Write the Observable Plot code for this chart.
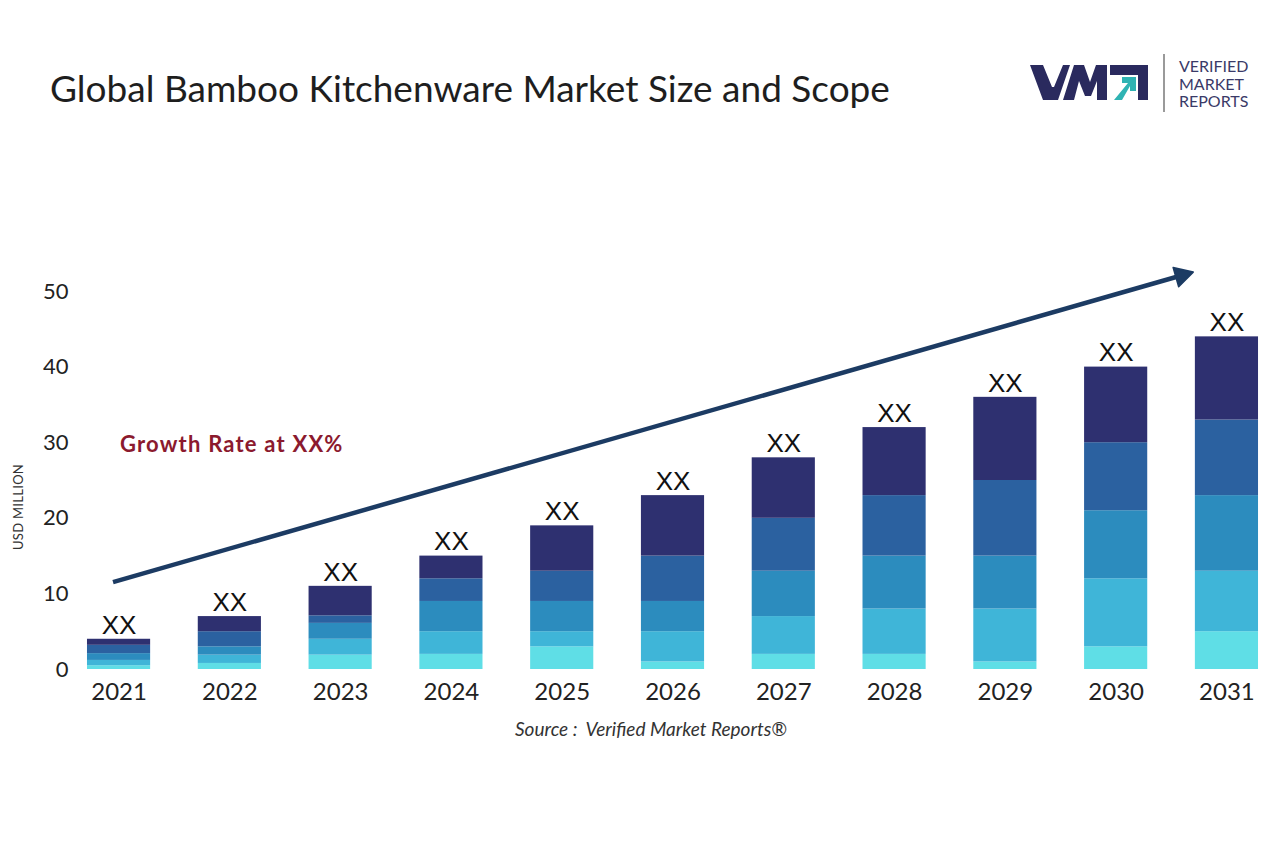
<!DOCTYPE html>
<html><head><meta charset="utf-8">
<script src="https://cdn.jsdelivr.net/npm/d3@7"></script>
<script src="https://cdn.jsdelivr.net/npm/@observablehq/plot@0.6"></script>
<style>
body{margin:0;background:#fff;width:1280px;height:853px;overflow:hidden;font-family:Lato,"Open Sans",sans-serif;}
#wrap{position:relative;width:1280px;height:853px;}
#title{position:absolute;left:50px;top:66px;line-height:44px;font-size:37px;color:#1e1e1e;font-family:Lato,sans-serif;white-space:nowrap;}
#chart{position:absolute;left:0;top:240px;}
#ylabel{position:absolute;left:18px;top:507px;transform:translate(-50%,-50%) rotate(-90deg);font-size:13px;letter-spacing:0.3px;color:#333;white-space:nowrap;}
#growth{position:absolute;left:120px;top:443px;transform:translateY(-50%);font-size:22px;letter-spacing:1.2px;font-weight:700;color:#8b1a2e;white-space:nowrap;}
#source{position:absolute;left:515px;top:728px;transform:translateY(-50%);font-size:19px;font-style:italic;color:#333;white-space:nowrap;}
#sep{position:absolute;left:1163px;top:54px;width:1.5px;height:58px;background:#9a9a9a;}
#vmrtext{position:absolute;left:1179px;top:57px;font-size:16px;line-height:17.5px;color:#3a3a68;}
#logo{position:absolute;left:1030px;top:65px;}
</style></head>
<body><div id="wrap">
<div id="title">Global Bamboo Kitchenware Market Size and Scope</div>
<svg id="logo" width="120" height="36" viewBox="0 0 120 36">
  <polygon points="0,0 13,0 22,22 24,22 33,0 40,0 28,35 13,35" fill="#2a2a5e"/>
  <polygon points="33,35 44,0 54,0 60,17 66,0 77,0 77,35 67,35 67,16 61,31 55,31 49,16 44,35" fill="#2a2a5e"/>
  <path d="M80,0 H118 V35 H108 V10 H80 Z" fill="#2a2a5e"/>
  <polygon points="84,35 98,18 92,18 92,12 106,12 106,26 100,26 100,21 92,35" fill="#2fb3b3"/>
</svg>
<div id="sep"></div>
<div id="vmrtext">VERIFIED<br>MARKET<br>REPORTS</div>
<div id="chart"></div>
<div id="ylabel">USD MILLION</div>
<div id="growth">Growth Rate at XX%</div>
<div id="source">Source :&nbsp; Verified Market Reports®</div>
</div>
<script>
// ---- data ----
const years = ["2021","2022","2023","2024","2025","2026","2027","2028","2029","2030","2031"];
const seriesNames = ["Segment 1","Segment 2","Segment 3","Segment 4","Segment 5"]; // bottom to top
const segment1 = [0.5, 0.8, 1.9, 2, 3, 1, 2, 2, 1, 3, 5];
const segment2 = [0.7, 1.1, 2.1, 3, 2, 4, 5, 6, 7, 9, 8];
const segment3 = [0.9, 1.1, 2.1, 4, 4, 4, 6, 7, 7, 9, 10];
const segment4 = [1.1, 2.0, 1.0, 3, 4, 6, 7, 8, 10, 9, 10];
const segment5 = [0.8, 2.0, 3.9, 3, 6, 8, 8, 9, 11, 10, 11];
const barLabels = ["XX","XX","XX","XX","XX","XX","XX","XX","XX","XX","XX"];
const yTicks = [0, 10, 20, 30, 40, 50];
const trendFrom = {year: 2020.95, value: 11.5};
const trendTo = {year: 2030.7, value: 52.5};

const palette = ["#5fdee6", "#3fb5d8", "#2c8cbe", "#2b61a0", "#2e3070"];
const arrowColor = "#1c3b63";

// ---- build tables ----
const seriesValues = [segment1, segment2, segment3, segment4, segment5];
const rows = [];
seriesNames.forEach((s, si) => years.forEach((y, i) => rows.push({year: y, series: s, value: seriesValues[si][i]})));
const totals = years.map((y, i) => ({year: y, total: d3.sum(seriesValues, a => a[i]), label: barLabels[i]}));

function trendArrow(index, scales) {
  const x = scales.x, y = scales.y;
  const bw = typeof x.bandwidth === "function" ? x.bandwidth() : x.bandwidth;
  const st = typeof x.step === "function" ? x.step() : x.step;
  const first = +years[0];
  const px = (yr) => x(years[0]) + bw / 2 + (yr - first) * st;
  const x1 = px(trendFrom.year), y1 = y(trendFrom.value);
  const x2 = px(trendTo.year), y2 = y(trendTo.value);
  const ang = Math.atan2(y2 - y1, x2 - x1);
  const L = 18, W = 10;
  const bx = x2 - L * Math.cos(ang), by = y2 - L * Math.sin(ang);
  const nx = -Math.sin(ang), ny = Math.cos(ang);
  const g = d3.create("svg:g");
  g.append("line").attr("x1", x1).attr("y1", y1).attr("x2", bx + 2 * Math.cos(ang)).attr("y2", by + 2 * Math.sin(ang))
    .attr("stroke", arrowColor).attr("stroke-width", 4.5);
  g.append("polygon").attr("points", `${x2},${y2} ${bx + W * nx},${by + W * ny} ${bx - W * nx},${by - W * ny}`)
    .attr("fill", arrowColor).attr("stroke", arrowColor).attr("stroke-width", 1.5).attr("stroke-linejoin", "round");
  return g.node();
}

const chart = Plot.plot({
  width: 1280,
  height: 469,
  marginLeft: 80,
  marginRight: 15,
  marginTop: 51,
  marginBottom: 40,
  style: {fontSize: "22px", fontFamily: "Lato, sans-serif", color: "#222", background: "transparent", overflow: "visible"},
  x: {domain: years, round: false, paddingInner: 0.43, paddingOuter: 0.063, tickSize: 0, tickPadding: 13, label: null},
  y: {domain: [0, 50], ticks: yTicks, tickSize: 0, tickPadding: 12, label: null},
  color: {domain: seriesNames, range: palette},
  marks: [
    Plot.barY(rows, {x: "year", y: "value", fill: "series", z: "series"}),
    Plot.text(totals, {x: "year", y: "total", text: "label", dy: -14, fontSize: 26, fontFamily: "Liberation Sans, Arial, sans-serif", fill: "#111"}),
    trendArrow
  ]
});
chart.querySelectorAll("g[aria-label='x-axis tick label'] text, g[aria-label='x-axis'] text").forEach(t => t.style.fontSize = "24px");
document.getElementById("chart").appendChild(chart);
</script>
</body></html>
